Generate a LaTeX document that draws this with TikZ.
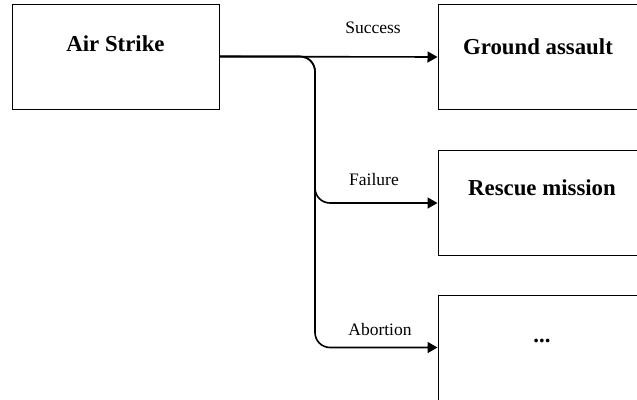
\documentclass[tikz,border=0pt]{standalone}
\usepackage{fontspec}
\setmainfont{Liberation Serif}
\usetikzlibrary{arrows.meta}
\begin{document}
\begin{tikzpicture}[x=1pt,y=-1pt,
  box/.style={draw=black,line width=1pt,minimum width=207pt,minimum height=105pt,inner sep=0pt},
  title/.style={font=\fontsize{22.8}{27}\selectfont\bfseries,inner sep=0pt},
  lab/.style={font=\fontsize{17.5}{21}\selectfont,inner sep=0pt},
  conn/.style={draw=black,line width=1.6pt,-{Triangle[length=10pt,width=11pt]}}]
\useasboundingbox (0,0) rectangle (637,399);
\clip (0,0) rectangle (637,399);
\node[box] (air) at (115.5,56.5) {};
\node[title] (airt) at (115.5,44) {Air Strike};
\node[box] (ga) at (541.5,57) {};
\node[title] (gat) at (538,47) {Ground assault};
\node[box] (rm) at (541.5,203) {};
\node[title] (rmt) at (542,188) {Rescue mission};
\node[box] (dt) at (541.5,347.5) {};
\node[title] (dtt) at (542,341) {...};
\coordinate (split) at (315,0);
\draw[conn] (air.east) -- (ga.west);
\draw[conn,rounded corners=15pt] (air.east) -| (split |- rm.west) -- (rm.west);
\draw[conn,rounded corners=15pt] (air.east) -| (split |- dt.west) -- (dt.west);
\node[lab] (ls) at (373,28) {Success};
\node[lab] (lf) at (374,180) {Failure};
\node[lab] (la) at (380,330) {Abortion};
\end{tikzpicture}
\end{document}
